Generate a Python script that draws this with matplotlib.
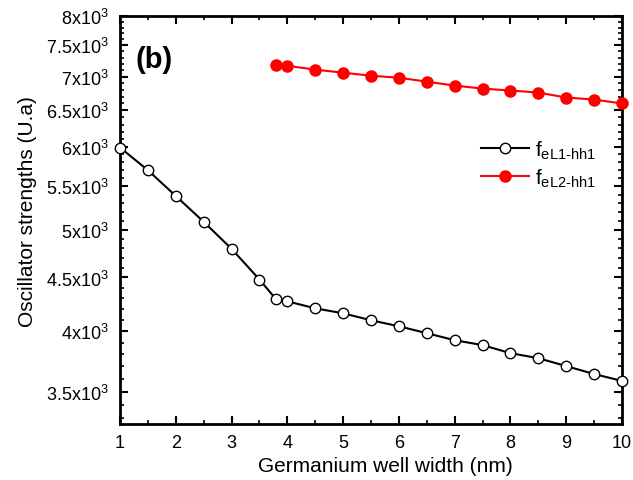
import matplotlib
matplotlib.use("Agg")
import matplotlib.pyplot as plt
from matplotlib.ticker import FixedLocator, FuncFormatter, MultipleLocator, NullFormatter

plt.rcParams["font.family"] = ["Liberation Sans", "DejaVu Sans"]
plt.rcParams["mathtext.fontset"] = "custom"
plt.rcParams["mathtext.rm"] = "Liberation Sans"
plt.rcParams["mathtext.it"] = "Liberation Sans"

# well width (nm)
width_l1 = [1, 1.5, 2, 2.5, 3, 3.5, 3.8, 4, 4.5, 5, 5.5, 6, 6.5, 7, 7.5, 8, 8.5, 9, 9.5, 10]
f_l1 = [5990, 5698, 5384, 5087, 4793, 4480, 4288, 4270, 4205, 4159, 4096, 4042,
        3981, 3920, 3878, 3810, 3768, 3703, 3639, 3584]

width_l2 = [3.8, 4, 4.5, 5, 5.5, 6, 6.5, 7, 7.5, 8, 8.5, 9, 9.5, 10]
f_l2 = [7187, 7170, 7109, 7062, 7015, 6984, 6924, 6864, 6819, 6790, 6760, 6686, 6657, 6599]

y_ticks = [3500, 4000, 4500, 5000, 5500, 6000, 6500, 7000, 7500, 8000]

fig = plt.figure(figsize=(6.33, 4.81), dpi=100)
ax = fig.add_axes([120 / 633, 56 / 481, 502 / 633, 408 / 481])

ax.plot(width_l1, f_l1, color="black", linewidth=1.5, marker="o", markersize=7.5,
        markerfacecolor="white", markeredgecolor="black", markeredgewidth=1.0,
        label=r"f$_{\mathregular{eL1\text{-}hh1}}$", clip_on=False, zorder=3)
ax.plot(width_l2, f_l2, color="red", linewidth=1.5, marker="o", markersize=8,
        markerfacecolor="red", markeredgecolor="red",
        label=r"f$_{\mathregular{eL2\text{-}hh1}}$", clip_on=False, zorder=3)

ax.set_yscale("log")
ax.set_xlim(1, 10)
ax.set_ylim(3260, 8000)

ax.xaxis.set_major_locator(MultipleLocator(1))
ax.xaxis.set_minor_locator(MultipleLocator(0.5))
ax.yaxis.set_major_locator(FixedLocator(y_ticks))
ax.yaxis.set_minor_locator(FixedLocator(list(range(3300, 8001, 100))))
ax.yaxis.set_minor_formatter(NullFormatter())


def fmt(v, pos):
    m = v / 1000
    s = f"{m:g}"
    return s + r"x10$^{\mathregular{3}}$"


ax.yaxis.set_major_formatter(FuncFormatter(fmt))

ax.tick_params(which="both", direction="in", top=True, right=True, labelsize=13)
ax.tick_params(which="major", length=6, width=1.5)
ax.tick_params(which="minor", length=3, width=1.2)
ax.tick_params(axis="x", pad=7)
ax.tick_params(axis="y", pad=8)
for sp in ax.spines.values():
    sp.set_linewidth(2)

ax.set_xlabel("Germanium well width (nm)", fontsize=15)
ax.set_ylabel("Oscillator strengths (U.a)", fontsize=15)
ax.xaxis.set_label_coords(0.528, -0.078)
ax.yaxis.set_label_coords(-0.166, 0.522)

ax.text(0.03, 0.93, "(b)", transform=ax.transAxes, fontsize=21,
        fontweight="bold", va="top", ha="left")

leg = ax.legend(loc="upper right", bbox_to_anchor=(0.985, 0.745), frameon=False,
                fontsize=15, handlelength=2.3, labelspacing=0.25, handletextpad=0.3)

fig.savefig("out.png", dpi=100)
